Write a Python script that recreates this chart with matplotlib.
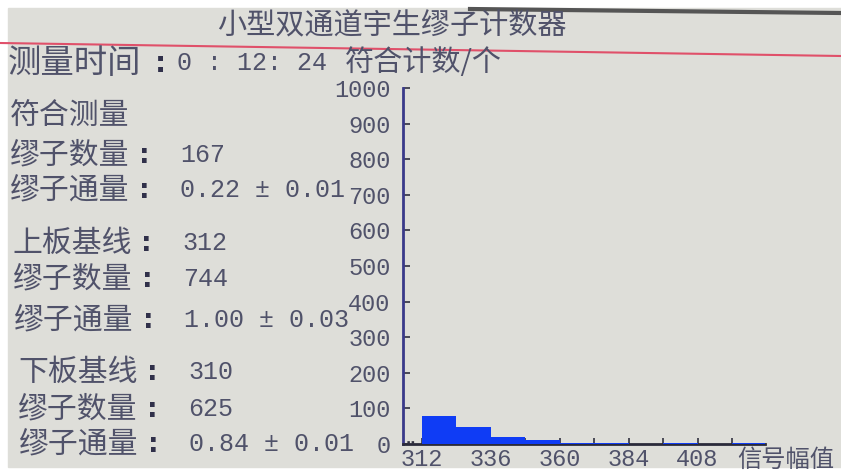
import numpy as np
import matplotlib
matplotlib.use('Agg')
import matplotlib.pyplot as plt
from matplotlib.patches import Rectangle
from matplotlib.lines import Line2D

plt.rcParams['font.family'] = ['Noto Sans CJK SC', 'DejaVu Sans']

# histogram of coincidence signal amplitude
bin_left = [312, 324, 336, 348, 360, 372, 384, 396, 408, 420]
counts = [78, 47, 21, 12, 3, 2, 0, 2, 0, 2]
bin_width = 12
y_ticks = [0, 100, 200, 300, 400, 500, 600, 700, 800, 900, 1000]
x_labels = [312, 336, 360, 384, 408]

title = '小型双通道宇生缪子计数器'
time_label = '测量时间'
time_value = '0 : 12: 24'
y_title = '符合计数/个'
x_title = '信号幅值'
section_head = '符合测量'
row_labels = ['缪子数量', '缪子通量', '上板基线', '缪子数量', '缪子通量',
              '下板基线', '缪子数量', '缪子通量']
row_values = ['167', '0.22 ± 0.01', '312', '744', '1.00 ± 0.03',
              '310', '625', '0.84 ± 0.01']

W, H = 841, 476
fig = plt.figure(figsize=(W / 100, H / 100), dpi=100, facecolor='white')


def fx(px):
    return px / W


def fy(py):
    return 1 - py / H


txt = '#50526a'
num_font = 'Liberation Mono'

# screen background
fig.patches.append(Rectangle((fx(8), fy(467)), fx(833), 459 / H,
                             transform=fig.transFigure, color='#deded9', zorder=-5))
fig.lines.append(Line2D([fx(470), 1], [fy(9), fy(13)], transform=fig.transFigure,
                        color='#555555', lw=3, zorder=-4))
# red separator line
fig.lines.append(Line2D([0, 1], [fy(43), fy(56)], transform=fig.transFigure,
                        color='#e0506a', lw=1.5, zorder=-4))

fig.text(fx(392), fy(26), title, fontsize=21, color=txt, ha='center', va='center')
fig.text(fx(8), fy(63), time_label, fontsize=24, color=txt, va='center')
fig.text(fx(160), fy(64), ':', fontsize=20, color='#30304a', va='center',
         ha='center', fontweight='bold', family='DejaVu Sans')
fig.text(fx(177), fy(63), time_value, fontsize=18, color=txt, va='center',
         family=num_font)
fig.text(fx(345), fy(63), y_title, fontsize=21, color=txt, va='center')
fig.text(fx(10), fy(116), section_head, fontsize=21.5, color=txt, va='center')

row_y = [155, 190, 243, 279, 320, 372, 409, 444]
row_x = [10, 10, 12, 13, 14, 18, 18, 19]
for lab, val, yy, xx in zip(row_labels, row_values, row_y, row_x):
    fig.text(fx(xx), fy(yy), lab, fontsize=21.5, color=txt, va='center')
    fig.text(fx(xx + 134), fy(yy + 1), ':', fontsize=19, color='#30304a',
             va='center', ha='center', fontweight='bold', family='DejaVu Sans')
    fig.text(fx(xx + 170), fy(yy), val, fontsize=18, color=txt, va='center',
             family=num_font)

# histogram axes
ax = fig.add_axes([fx(403), fy(444), fx(765 - 403), (444 - 88) / H])
ax.set_facecolor('none')
ax.bar(bin_left, counts, width=bin_width, align='edge', color='#0f3cf5',
       edgecolor='none', zorder=3)
ax.set_xlim(305.4, 431.5)
ax.set_ylim(0, 1000)

for s in ['top', 'right']:
    ax.spines[s].set_visible(False)
ax.spines['left'].set_color('#3a3a8a')
ax.spines['left'].set_linewidth(2)
ax.spines['bottom'].set_color('#2a2a3a')
ax.spines['bottom'].set_linewidth(2)

ax.set_yticks(y_ticks)
ax.set_yticklabels([str(v) for v in y_ticks], family=num_font, fontsize=17,
                   color=txt)
ax.tick_params(axis='y', direction='in', length=5, width=1.2, color='#303040',
               pad=9)
ax.set_xticks(np.arange(312, 432, 12))
ax.set_xticklabels([str(v) if v in x_labels else '' for v in np.arange(312, 432, 12)],
                   family=num_font, fontsize=17, color=txt)
ax.tick_params(axis='x', direction='in', length=4, width=1.2, color='#303040',
               pad=3)

fig.text(fx(406), fy(440), '..', fontsize=10, color='#303040', va='center',
         fontweight='bold', family='DejaVu Sans')
fig.text(fx(737), fy(460), x_title, fontsize=17.5, color=txt, va='center')

fig.savefig('out.png', dpi=100)
